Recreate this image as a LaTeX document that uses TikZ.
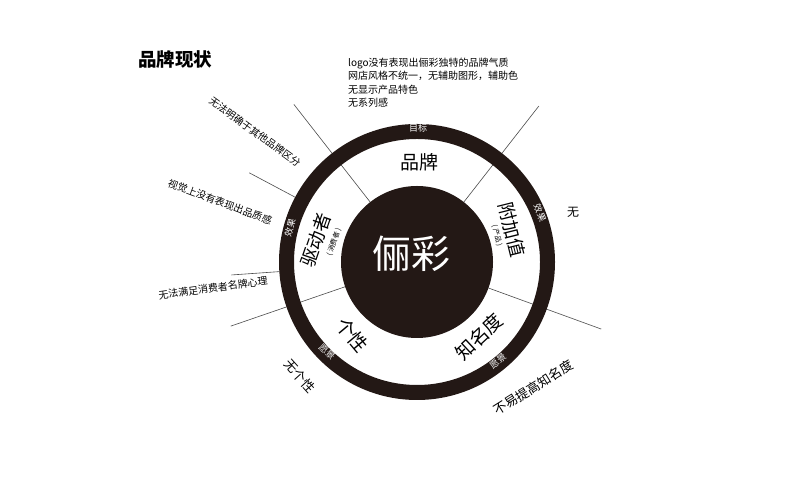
\documentclass[tikz,border=0pt]{standalone}
\usepackage{fontspec}
\setmainfont{Noto Sans CJK SC}
\usetikzlibrary{calc}
\definecolor{ink}{HTML}{231815}
\definecolor{rule}{HTML}{4A4A4A}
\newcommand{\fs}[1]{\fontsize{#1}{#1}\selectfont}
\begin{document}
\begin{tikzpicture}[x=1pt,y=1pt,
  every node/.style={inner sep=0pt},
  divider/.style={draw=rule, line width=0.6pt},
  note/.style={font=\fs{10}, text=black},
  sector/.style={font=\fs{19}, text=black},
  ringlabel/.style={font=\fs{9}, text=white},
  sub/.style={font=\fs{7}, text=black}]
\useasboundingbox (0,0) rectangle (800,502);
\coordinate (C) at (417,240);
% divider and pointer coordinates
\foreach \n/\a/\r in {a/128/200, b/52/198, c/199/197, d/-20/196}{
  \coordinate (\n in) at ([shift={(\a:76)}]C);
  \coordinate (\n out) at ([shift={(\a:\r)}]C);
}
\foreach \n/\a/\r in {e/152/190, f/184/186}{
  \coordinate (\n in) at ([shift={(\a:138)}]C);
  \coordinate (\n out) at ([shift={(\a:\r)}]C);
}
\foreach \n in {a,b,c,d,e,f}{ \draw[divider] (\n in) -- (\n out); }
% ring and core
\fill[ink, even odd rule] (C) circle (138) (C) circle (123);
\fill[ink] (C) circle (76);
% title
\node[font=\bfseries\fs{18.5}] (title) at (175,442.5) {品牌现状};
% notes
\node[note, anchor=west, align=left, font=\fontsize{10}{13.2}\selectfont] (logo) at (348,419.3)
  {logo没有表现出俪彩独特的品牌气质\\网店风格不统一，无辅助图形，辅助色\\无显示产品特色\\无系列感};
\node[note, rotate=-36] (n1) at (255,370) {无法明确于其他品牌区分};
\node[note, rotate=-20.5] (n2) at (220,300) {视觉上没有表现出品质感};
\node[note, rotate=7.8] (n3) at (213,214) {无法满足消费者名牌心理};
\node[note, font=\fs{13}, rotate=-48] (n4) at (300,126) {无个性};
\node[note, font=\fs{12}] (n5) at (573,290) {无};
\node[note, font=\fs{13}, rotate=32] (n6) at (533.5,114.5) {不易提高知名度};
% sectors
\node[sector] (brand) at (419,340) {品牌};
\node[font=\fs{39}, text=white] (core) at (411,248) {俪彩};
\node[sector, font=\fs{18.5}, rotate=71] (driver) at (316,262) {驱动者};
\node[sub, rotate=71] (driversub) at (334,260) {( 消费者 )};
\node[sector, font=\fs{18.5}, rotate=-76] (value) at (512,272) {附加值};
\node[sub, rotate=-76] (valuesub) at (497,266) {( 产品 )};
\node[sector, rotate=-50] (pers) at (352,167) {个性};
\node[sector, rotate=43] (fame) at (479,165) {知名度};
% ring labels
\node[ringlabel] (goal) at (418,374) {目标};
\node[ringlabel, rotate=75] (effl) at (290,274) {效果};
\node[ringlabel, rotate=-68] (effr) at (540,289) {效果};
\node[ringlabel, rotate=-40] (visl) at (327,150) {愿景};
\node[ringlabel, rotate=40] (visr) at (498,141) {愿景};
\end{tikzpicture}
\end{document}
